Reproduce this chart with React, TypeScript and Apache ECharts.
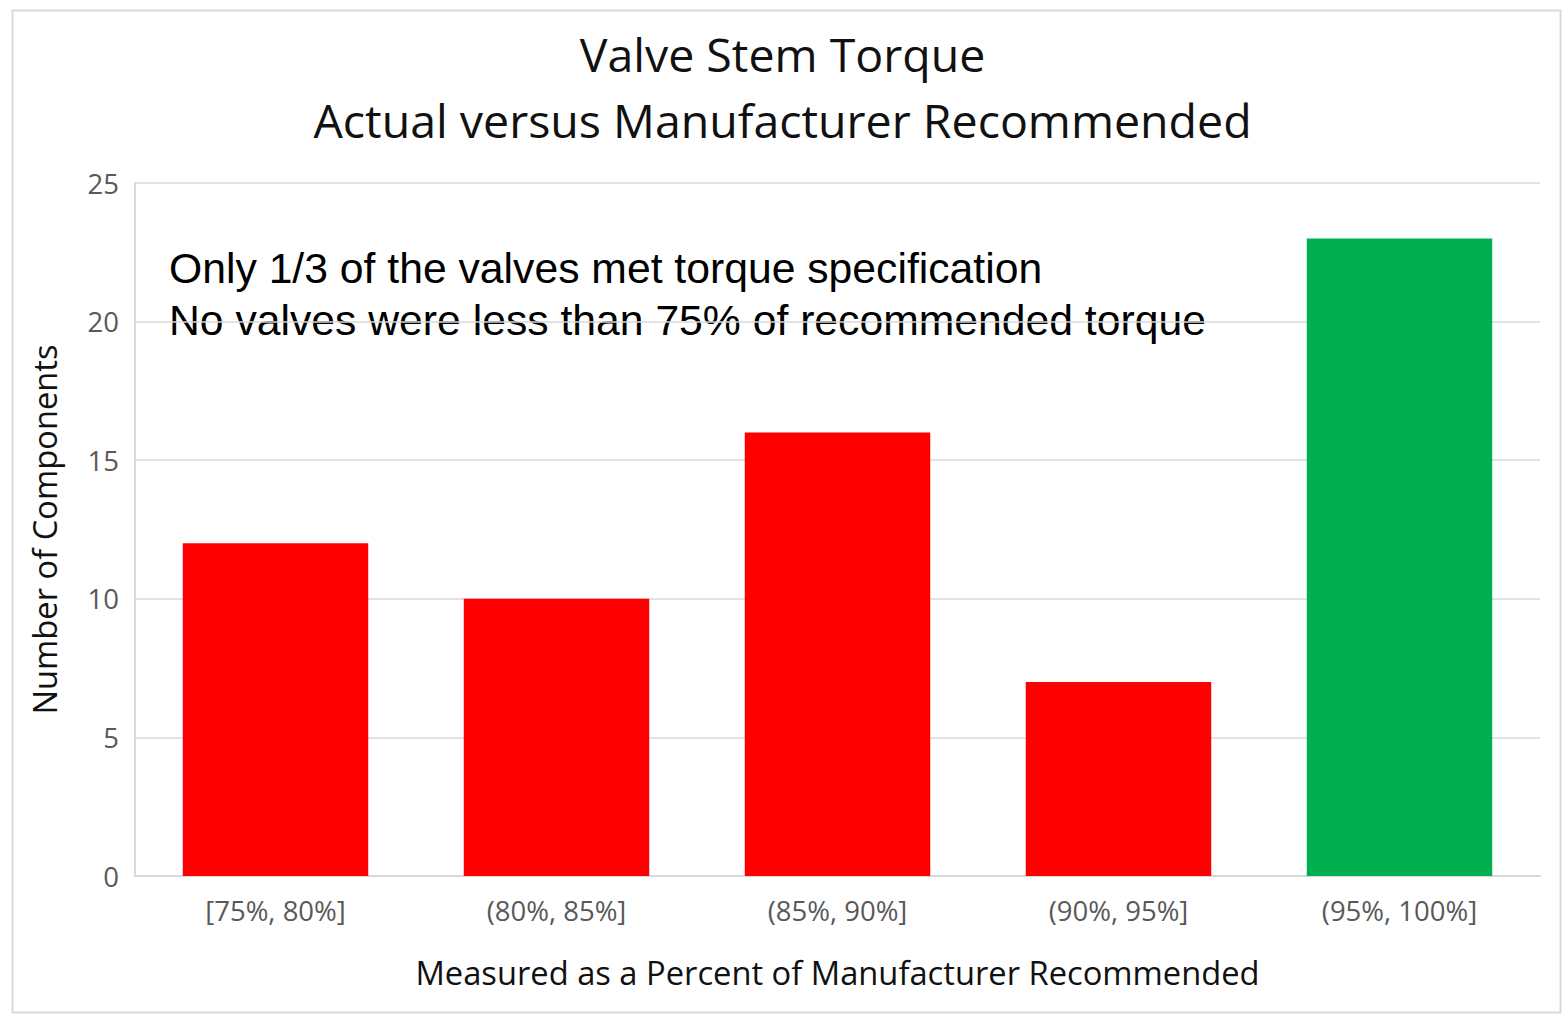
import React, { useEffect, useRef } from "react";
import * as echarts from "echarts";

const categories = ["[75%, 80%]", "(80%, 85%]", "(85%, 90%]", "(90%, 95%]", "(95%, 100%]"];
const counts = [12, 10, 16, 7, 23];
const barColors = ["#ff0000", "#ff0000", "#ff0000", "#ff0000", "#00b050"];
const titleLines = ["Valve Stem Torque", "Actual versus Manufacturer Recommended"];
const notes = ["Only 1/3 of the valves met torque specification", "No valves were less than 75% of recommended torque"];

const SEG = "'Open Sans', 'Noto Sans', sans-serif";

export default function App() {
  const ref = useRef<HTMLDivElement>(null);
  useEffect(() => {
    if (!ref.current) return;
    const chart = echarts.init(ref.current, null, { renderer: "svg" });
    chart.setOption({
      animation: false,
      backgroundColor: "#ffffff",
      title: {
        text: titleLines.join("\n"),
        left: "center",
        top: 16,
        textStyle: { fontFamily: SEG, fontSize: 46.5, fontWeight: "normal", color: "#111111", lineHeight: 66 },
      },
      grid: { left: 135, right: 25, top: 183, bottom: 140, containLabel: false },
      xAxis: {
        type: "category",
        data: categories,
        axisLine: { show: true, lineStyle: { color: "#d9d9d9", width: 2 } },
        axisTick: { show: false },
        axisLabel: { color: "#595959", fontSize: 27.5, fontFamily: SEG, margin: 20 },
        name: "Measured as a Percent of Manufacturer Recommended",
        nameLocation: "middle",
        nameGap: 80,
        nameTextStyle: { color: "#111111", fontSize: 32.7, fontFamily: SEG },
      },
      yAxis: {
        type: "value",
        min: 0,
        max: 25,
        interval: 5,
        axisLine: { show: true, lineStyle: { color: "#d9d9d9", width: 2 } },
        axisTick: { show: false },
        splitLine: { show: true, lineStyle: { color: "#d9d9d9", width: 1.5 } },
        axisLabel: { color: "#595959", fontSize: 27.5, fontFamily: SEG, margin: 16 },
        name: "Number of Components",
        nameLocation: "middle",
        nameGap: 74,
        nameTextStyle: { color: "#111111", fontSize: 32.7, fontFamily: SEG },
      },
      series: [
        {
          type: "bar",
          data: counts.map((v, i) => ({ value: v, itemStyle: { color: barColors[i] } })),
          barWidth: "66%",
        },
      ],
      graphic: [
        {
          type: "rect",
          left: 10,
          top: 8,
          shape: { width: 1548, height: 1002 },
          style: { fill: "none", stroke: "#d9d9d9", lineWidth: 2 },
          silent: true,
        },
        {
          type: "text",
          left: 169,
          top: 242,
          style: {
            text: notes.join("\n"),
            fontFamily: "'Liberation Sans', Arial, sans-serif",
            fontSize: 42.7,
            lineHeight: 52,
            fill: "#000000",
          },
        },
      ],
    });
    return () => chart.dispose();
  }, []);
  return (
    <div
      ref={ref}
      style={{ position: "fixed", left: 0, top: 0, width: 1565, height: 1016 }}
    />
  );
}
